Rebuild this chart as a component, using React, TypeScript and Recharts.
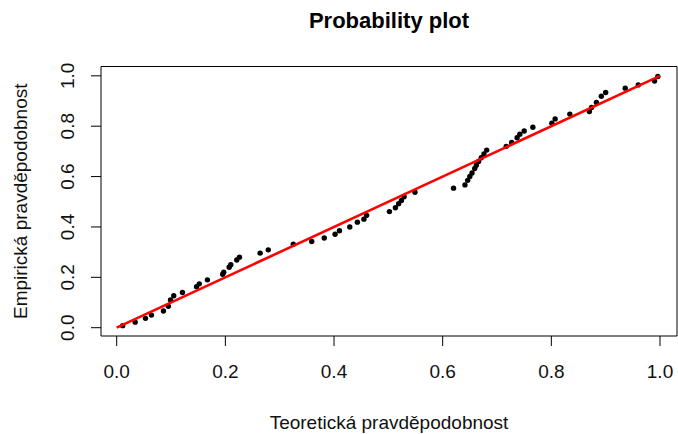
import React from "react";
import {
  ScatterChart,
  Scatter,
  XAxis,
  YAxis,
  ReferenceArea,
  Label,
} from "recharts";

// Teoretická pravděpodobnost (x) a empirická pravděpodobnost (y) pro každé pozorování
const teoreticka = [
  0.011, 0.034, 0.053, 0.064, 0.086, 0.095, 0.099, 0.105, 0.121, 0.147,
  0.152, 0.167, 0.195, 0.197, 0.207, 0.21, 0.221, 0.226, 0.264, 0.279,
  0.325, 0.359, 0.382, 0.402, 0.41, 0.429, 0.443, 0.455, 0.46, 0.502,
  0.513, 0.519, 0.524, 0.529, 0.549, 0.62, 0.641, 0.646, 0.65, 0.654,
  0.659, 0.662, 0.666, 0.671, 0.676, 0.681, 0.717, 0.727, 0.737, 0.742,
  0.75, 0.766, 0.801, 0.807, 0.834, 0.87, 0.874, 0.883, 0.892, 0.9,
  0.936, 0.96, 0.99, 0.996,
];
const empiricka = [
  0.008, 0.022, 0.037, 0.05, 0.066, 0.085, 0.11, 0.127, 0.14, 0.163,
  0.174, 0.19, 0.212, 0.22, 0.24, 0.25, 0.269, 0.28, 0.296, 0.309,
  0.331, 0.342, 0.356, 0.371, 0.385, 0.4, 0.419, 0.431, 0.446, 0.461,
  0.476, 0.492, 0.505, 0.52, 0.538, 0.554, 0.567, 0.585, 0.6, 0.614,
  0.632, 0.645, 0.66, 0.675, 0.69, 0.705, 0.72, 0.735, 0.754, 0.768,
  0.781, 0.796, 0.812, 0.829, 0.848, 0.858, 0.874, 0.894, 0.919, 0.934,
  0.951, 0.964, 0.979, 0.997,
];

// Referenční přímka y = x
const primkaX = [0, 1];
const primkaY = [0, 1];

const xTicks = [0, 0.2, 0.4, 0.6, 0.8, 1.0];
const yTicks = [0, 0.2, 0.4, 0.6, 0.8, 1.0];

const nadpis = "Probability plot";
const popisX = "Teoretická pravděpodobnost";
const popisY = "Empirická pravděpodobnost";

// Rozsah os (jako v R: data rozšířená o 4 % na každé straně)
const X_MIN = -0.0289;
const X_MAX = 1.0313;
const Y_MIN = -0.033;
const Y_MAX = 1.037;

const body = teoreticka.map((x, i) => ({ x, y: empiricka[i] }));
const primka = primkaX.map((x, i) => ({ x, y: primkaY[i] }));

const FONT = "'Liberation Sans', Arial, sans-serif";

const XTick = (props: any) => {
  const { x, y, payload } = props;
  return (
    <text
      x={x}
      y={y + 30}
      textAnchor="middle"
      fontFamily={FONT}
      fontSize={19}
      fill="#111"
    >
      {Number(payload.value).toFixed(1)}
    </text>
  );
};

const YTick = (props: any) => {
  const { x, y, payload } = props;
  const tx = x - 15.4;
  return (
    <text
      x={tx}
      y={y}
      transform={`rotate(-90, ${tx}, ${y})`}
      textAnchor="middle"
      fontFamily={FONT}
      fontSize={19}
      fill="#111"
    >
      {Number(payload.value).toFixed(1)}
    </text>
  );
};

const Bod = (props: any) => (
  <circle cx={props.cx} cy={props.cy} r={2.7} fill="#000" />
);

export default function App() {
  return (
    <div
      style={{
        position: "absolute",
        left: 0,
        top: 0,
        width: 678,
        height: 434,
        background: "#fff",
      }}
    >
      <div
        style={{
          position: "absolute",
          left: 101,
          width: 576,
          top: 10,
          textAlign: "center",
          fontFamily: FONT,
          fontWeight: "bold",
          fontSize: 22,
          lineHeight: "22px",
          color: "#000",
        }}
      >
        {nadpis}
      </div>
      <ScatterChart
        width={678}
        height={434}
        margin={{ top: 66.5, right: 1, bottom: 68, left: 71 }}
      >
        <XAxis
          type="number"
          dataKey="x"
          domain={[X_MIN, X_MAX]}
          ticks={xTicks}
          allowDataOverflow
          height={30}
          axisLine={false}
          tickSize={10}
          tickLine={{ stroke: "#000", strokeWidth: 1 }}
          tick={<XTick />}
          interval={0}
        >
          <Label
            content={(p: any) => {
              const vb = p.viewBox || {};
              return (
                <text
                  x={vb.x + vb.width / 2}
                  y={vb.y + 93}
                  textAnchor="middle"
                  fontFamily={FONT}
                  fontSize={19}
                  fill="#111"
                >
                  {popisX}
                </text>
              );
            }}
          />
        </XAxis>
        <YAxis
          type="number"
          dataKey="y"
          domain={[Y_MIN, Y_MAX]}
          ticks={yTicks}
          allowDataOverflow
          width={30}
          axisLine={false}
          tickSize={10}
          tickLine={{ stroke: "#000", strokeWidth: 1 }}
          tick={<YTick />}
          interval={0}
        >
          <Label
            content={(p: any) => {
              const vb = p.viewBox || {};
              const cx = 26.6;
              const cy = vb.y + vb.height / 2;
              return (
                <text
                  x={cx}
                  y={cy}
                  transform={`rotate(-90, ${cx}, ${cy})`}
                  textAnchor="middle"
                  fontFamily={FONT}
                  fontSize={19}
                  fill="#111"
                >
                  {popisY}
                </text>
              );
            }}
          />
        </YAxis>
        <ReferenceArea
          x1={X_MIN}
          x2={X_MAX}
          y1={Y_MIN}
          y2={Y_MAX}
          fill="none"
          stroke="#000"
          strokeWidth={1}
          ifOverflow="visible"
        />
        <Scatter data={body} shape={<Bod />} isAnimationActive={false} />
        <Scatter
          data={primka}
          line={{ stroke: "#ff0000", strokeWidth: 2.6 }}
          shape={() => <g />}
          isAnimationActive={false}
        />
      </ScatterChart>
    </div>
  );
}
